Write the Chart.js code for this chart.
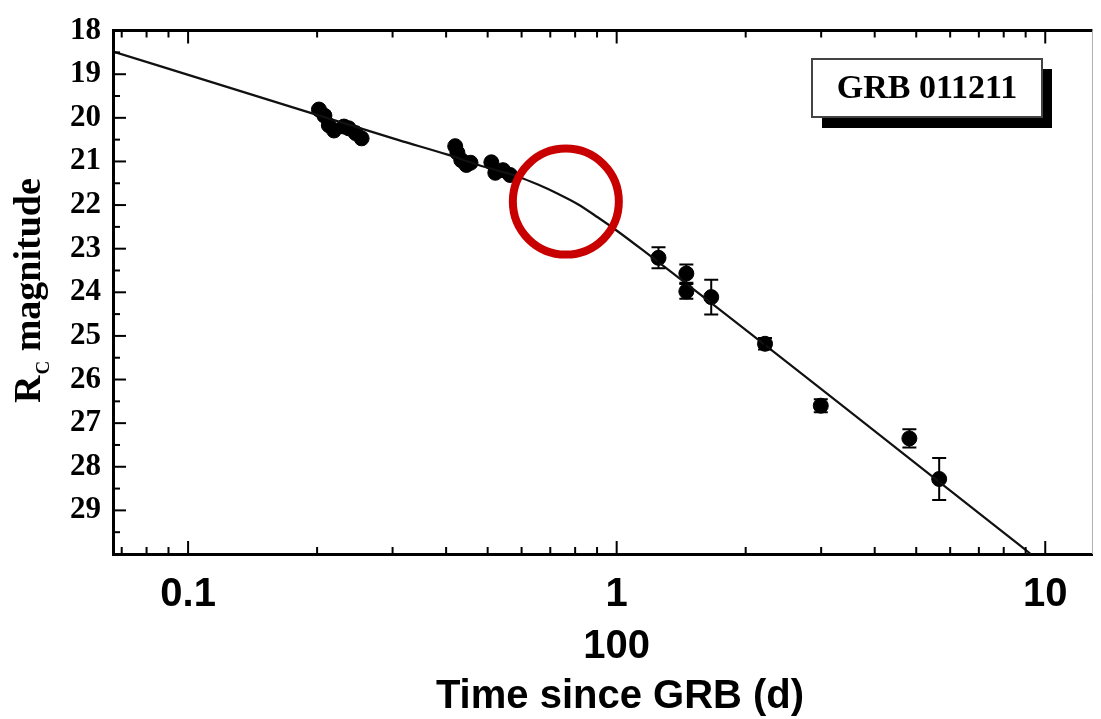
<!DOCTYPE html>
<html>
<head>
<meta charset="utf-8">
<script src="https://cdn.jsdelivr.net/npm/chart.js@4.4.0/dist/chart.umd.min.js"></script>
<style>
  html, body { margin: 0; padding: 0; background: #ffffff; }
  #wrap { width: 1101px; height: 719px; }
</style>
</head>
<body>
<div id="wrap"><canvas id="lightCurve"></canvas></div>
<script>
// 光变曲线数据
const denseTimes = [0.202, 0.208, 0.213, 0.219, 0.231, 0.237, 0.246, 0.254,
                    0.420, 0.425, 0.434, 0.446, 0.456, 0.510, 0.521, 0.543, 0.564];
const denseMags  = [19.81, 19.95, 20.17, 20.29, 20.20, 20.24, 20.35, 20.47,
                    20.65, 20.80, 20.97, 21.08, 21.03, 21.02, 21.26, 21.20, 21.31];

const lateTimes  = [1.252, 1.454, 1.454, 1.662, 2.219, 2.994, 4.819, 5.656];
const lateMags   = [23.21, 23.57, 23.98, 24.11, 25.18, 26.60, 27.35, 28.28];
const lateErrors = [0.24, 0.21, 0.17, 0.40, 0.13, 0.15, 0.21, 0.48];

// 拟合曲线
const modelTimes = [0.0668, 0.139, 0.310, 0.405, 0.476, 0.529, 0.589, 0.655, 0.729, 0.812,
                    0.903, 1.005, 1.149, 9.253];
const modelMags  = [18.48, 19.45, 20.51, 20.85, 21.08, 21.21, 21.35, 21.53, 21.74, 21.98,
                    22.28, 22.60, 23.03, 30.0];

// 坐标轴
const xTickValues = [0.1, 1, 10];
const xTickLabels = ['0.1', ['1', '100'], '10'];
const xTitle = 'Time since GRB (d)';
const yTickValues = [18, 19, 20, 21, 22, 23, 24, 25, 26, 27, 28, 29];
const labelText = 'GRB 011211';
const highlightAt = { x: 0.761, y: 21.92 };

const toPoints = (xs, ys) => xs.map((t, i) => ({ x: t, y: ys[i] }));

// 误差棒
const errorBarPlugin = {
    id: 'errorBars',
    afterDatasetsDraw(chart) {
        const { ctx, scales: { x, y } } = chart;
        ctx.save();
        ctx.strokeStyle = '#000';
        ctx.lineWidth = 2;
        lateTimes.forEach((t, i) => {
            const px = x.getPixelForValue(t);
            const top = y.getPixelForValue(lateMags[i] - lateErrors[i]);
            const bot = y.getPixelForValue(lateMags[i] + lateErrors[i]);
            ctx.beginPath();
            ctx.moveTo(px, top); ctx.lineTo(px, bot);
            ctx.moveTo(px - 7, top); ctx.lineTo(px + 7, top);
            ctx.moveTo(px - 7, bot); ctx.lineTo(px + 7, bot);
            ctx.stroke();
        });
        ctx.restore();
    }
};

// 边框和朝内的刻度
const frameTicksPlugin = {
    id: 'frameTicks',
    afterDraw(chart) {
        const { ctx, chartArea: a, scales: { x, y } } = chart;
        ctx.save();
        ctx.strokeStyle = '#000';
        ctx.lineWidth = 3;
        ctx.beginPath();
        ctx.moveTo(a.left, a.top); ctx.lineTo(a.right, a.top);
        ctx.stroke();
        ctx.strokeStyle = '#b0b0b0';
        ctx.lineWidth = 1;
        ctx.beginPath();
        ctx.moveTo(a.right, a.top); ctx.lineTo(a.right, a.bottom);
        ctx.stroke();

        ctx.strokeStyle = '#000';
        ctx.lineWidth = 2;
        for (let v = y.min; v <= y.max; v += 0.5) {
            const py = y.getPixelForValue(v);
            const len = Number.isInteger(v) ? 13 : 7;
            ctx.beginPath();
            ctx.moveTo(a.left, py); ctx.lineTo(a.left + len, py);
            ctx.stroke();
        }
        for (let d = 0.01; d <= 100; d *= 10) {
            for (let m = 1; m <= 9; m++) {
                const v = m * d;
                if (v < x.min || v > x.max) continue;
                const px = x.getPixelForValue(v);
                const len = m === 1 ? 13 : 7;
                ctx.beginPath();
                ctx.moveTo(px, a.bottom); ctx.lineTo(px, a.bottom - len);
                ctx.moveTo(px, a.top); ctx.lineTo(px, a.top + len);
                ctx.stroke();
            }
        }
        ctx.restore();
    }
};

// 标题、标签框和红圈
const annotationPlugin = {
    id: 'annotations',
    afterDraw(chart) {
        const { ctx, chartArea: a, scales: { x, y } } = chart;
        ctx.save();

        // y 轴标题 R_C magnitude
        ctx.translate(40, 403);
        ctx.rotate(-Math.PI / 2);
        ctx.fillStyle = '#000';
        ctx.textBaseline = 'alphabetic';
        ctx.textAlign = 'left';
        ctx.font = 'bold 38px "Liberation Serif", "Times New Roman", serif';
        ctx.fillText('R', 0, 0);
        let off = ctx.measureText('R').width;
        ctx.font = 'bold 19px "Liberation Serif", "Times New Roman", serif';
        ctx.fillText('C', off + 1, 9);
        off += ctx.measureText('C').width + 1;
        ctx.font = 'bold 38px "Liberation Serif", "Times New Roman", serif';
        ctx.fillText(' magnitude', off, 0);
        ctx.setTransform(1, 0, 0, 1, 0, 0);

        // x 轴标题
        ctx.font = 'bold 40px "Liberation Sans", Arial, sans-serif';
        ctx.textAlign = 'center';
        ctx.textBaseline = 'middle';
        ctx.fillText(xTitle, 620, 697);

        // 标签框
        ctx.fillStyle = '#000';
        ctx.fillRect(822, 69, 230, 59);
        ctx.fillStyle = '#fff';
        ctx.fillRect(812, 59, 230, 58);
        ctx.strokeStyle = '#444';
        ctx.lineWidth = 2;
        ctx.strokeRect(812, 59, 230, 58);
        ctx.fillStyle = '#000';
        ctx.font = 'bold 34px "Liberation Serif", "Times New Roman", serif';
        ctx.fillText(labelText, 927, 89);

        // 红圈
        ctx.strokeStyle = '#c80000';
        ctx.lineWidth = 8;
        ctx.beginPath();
        ctx.arc(x.getPixelForValue(highlightAt.x), y.getPixelForValue(highlightAt.y), 53, 0, Math.PI * 2);
        ctx.stroke();
        ctx.restore();
    }
};

new Chart(document.getElementById('lightCurve'), {
    type: 'scatter',
    data: {
        datasets: [{
            label: 'model',
            data: toPoints(modelTimes, modelMags),
            showLine: true,
            borderColor: '#111',
            borderWidth: 2.2,
            pointRadius: 0,
            cubicInterpolationMode: 'monotone'
        }, {
            label: 'dense',
            data: toPoints(denseTimes, denseMags),
            backgroundColor: '#000',
            borderColor: '#000',
            pointRadius: 7.5
        }, {
            label: 'late',
            data: toPoints(lateTimes, lateMags),
            backgroundColor: '#000',
            borderColor: '#000',
            pointRadius: 7.5
        }]
    },
    options: {
        responsive: true,
        maintainAspectRatio: false,
        animation: false,
        layout: { padding: { top: 24, right: 4, left: 0, bottom: 0 } },
        plugins: {
            legend: { display: false },
            tooltip: { enabled: false }
        },
        scales: {
            x: {
                type: 'logarithmic',
                min: 0.0668,
                max: 12.89,
                afterBuildTicks: (scale) => {
                    scale.ticks = xTickValues.map(v => ({ value: v }));
                },
                afterFit: (scale) => { scale.height = 165; },
                grid: { display: false, drawTicks: false },
                border: { display: true, color: '#000', width: 3 },
                ticks: {
                    autoSkip: false,
                    maxRotation: 0,
                    padding: 15,
                    color: '#000',
                    font: { family: '"Liberation Sans", Arial, sans-serif', size: 40, weight: 'bold', lineHeight: 1.3 },
                    callback: (value) => {
                        const i = xTickValues.indexOf(value);
                        return i >= 0 ? xTickLabels[i] : '';
                    }
                }
            },
            y: {
                type: 'linear',
                reverse: true,
                min: 18,
                max: 30,
                afterBuildTicks: (scale) => {
                    scale.ticks = yTickValues.map(v => ({ value: v }));
                },
                afterFit: (scale) => { scale.width = 113; },
                grid: { display: false, drawTicks: false },
                border: { display: true, color: '#000', width: 3 },
                ticks: {
                    padding: 12,
                    color: '#000',
                    font: { family: '"Liberation Serif", "Times New Roman", serif', size: 31, weight: 'bold' }
                }
            }
        }
    },
    plugins: [errorBarPlugin, frameTicksPlugin, annotationPlugin]
});
</script>
</body>
</html>
